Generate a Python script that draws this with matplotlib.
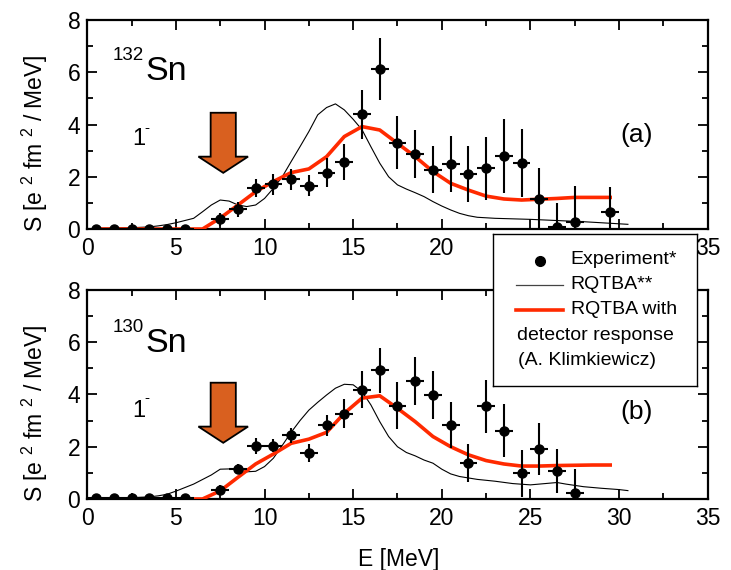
import numpy as np
import matplotlib
matplotlib.use("Agg")
import matplotlib.pyplot as plt
from matplotlib.ticker import MultipleLocator
from matplotlib.patches import FancyArrow

plt.rcParams['font.family'] = ['Liberation Sans', 'DejaVu Sans']
plt.rcParams['mathtext.fontset'] = 'custom'
plt.rcParams['mathtext.rm'] = 'Liberation Sans'
plt.rcParams['mathtext.it'] = 'Liberation Sans:italic'
plt.rcParams['mathtext.bf'] = 'Liberation Sans:bold'

# ---------------- data ----------------
# 132Sn experiment
exp132_x = [0.5, 1.5, 2.5, 3.5, 4.5, 5.5, 7.5, 8.5, 9.5, 10.5, 11.5, 12.5, 13.5, 14.5,
            15.5, 16.5, 17.5, 18.5, 19.5, 20.5, 21.5, 22.5, 23.5, 24.5, 25.5, 26.5, 27.5, 29.5]
exp132_y = [0.02, 0.02, 0.02, 0.02, 0.02, 0.02, 0.38, 0.75, 1.58, 1.71, 1.90, 1.66, 2.16, 2.57,
            4.39, 6.12, 3.31, 2.87, 2.26, 2.48, 2.11, 2.32, 2.80, 2.52, 1.15, 0.09, 0.28, 0.65]
exp132_err = [0, 0, 0, 0, 0, 0, 0.25, 0.3, 0.35, 0.4, 0.4, 0.4, 0.55, 0.7,
              0.95, 1.2, 1.0, 0.93, 0.9, 1.07, 1.08, 1.2, 1.42, 1.3, 1.2, 0.9, 1.37, 0.97]

# 130Sn experiment
exp130_x = [0.5, 1.5, 2.5, 3.5, 4.5, 5.5, 7.5, 8.5, 9.5, 10.5, 11.5, 12.5, 13.5, 14.5,
            15.5, 16.5, 17.5, 18.5, 19.5, 20.5, 21.5, 22.5, 23.5, 24.5, 25.5, 26.5, 27.5]
exp130_y = [0.02, 0.02, 0.02, 0.02, 0.02, 0.02, 0.34, 1.14, 2.04, 2.03, 2.43, 1.75, 2.82, 3.26,
            4.18, 4.92, 3.56, 4.53, 3.98, 2.82, 1.39, 3.54, 2.62, 0.98, 1.92, 1.07, 0.24]
exp130_err = [0, 0, 0, 0, 0, 0, 0.2, 0.2, 0.3, 0.25, 0.3, 0.35, 0.4, 0.55,
              0.7, 0.85, 0.9, 0.92, 0.9, 0.88, 0.73, 1.0, 1.0, 0.9, 1.0, 0.85, 0.9]

bin_halfwidth = 0.5

# RQTBA (thin black)
rq132_x = [0.5, 1.5, 2.5, 3.5, 4.0, 4.5, 5.0, 6.0, 6.5, 7.0, 7.5, 8.0, 8.5, 9.0, 9.5, 10.0, 10.5,
           11.0, 11.5, 12.0, 12.5, 13.0, 13.5, 14.0, 14.5, 15.0, 15.5, 16.0, 16.5, 17.0, 17.5,
           18.0, 18.5, 19.0, 19.5, 20.0, 20.5, 21.0, 21.5, 22.0, 23.0, 25.0, 28.0, 30.5]
rq132_y = [0.03, 0.04, 0.05, 0.08, 0.12, 0.17, 0.24, 0.41, 0.66, 0.92, 1.11, 1.07, 0.92, 0.86, 0.92,
           1.17, 1.56, 2.0, 2.58, 3.15, 3.73, 4.37, 4.65, 4.79, 4.56, 4.2, 3.8, 3.15, 2.52, 2.0, 1.69,
           1.53, 1.39, 1.24, 1.05, 0.88, 0.73, 0.6, 0.51, 0.45, 0.41, 0.37, 0.28, 0.18]

rq130_x = [0.5, 1.5, 2.5, 3.5, 4.0, 4.5, 5.0, 6.0, 7.0, 7.5, 8.0, 8.5, 9.0, 9.5, 10.0, 10.5, 11.0,
           11.5, 12.0, 12.5, 13.0, 13.5, 14.0, 14.5, 15.0, 15.5, 16.0, 16.5, 17.0, 17.5, 18.0,
           18.5, 19.0, 19.5, 20.0, 20.5, 21.0, 22.0, 23.0, 24.0, 25.0, 26.0, 26.5, 27.0, 28.0,
           29.0, 30.0, 30.5]
rq130_y = [0.03, 0.04, 0.05, 0.08, 0.12, 0.18, 0.3, 0.57, 0.92, 1.14, 1.15, 1.12, 1.04, 1.06, 1.24,
           1.56, 2.05, 2.55, 3.0, 3.4, 3.7, 3.98, 4.24, 4.39, 4.37, 4.11, 3.6, 2.96, 2.39, 2.0, 1.78,
           1.65, 1.49, 1.37, 1.14, 0.96, 0.86, 0.75, 0.68, 0.59, 0.54, 0.6, 0.63, 0.57, 0.47,
           0.41, 0.36, 0.32]

# RQTBA with detector response (thick red)
det_x = [0.5, 1.5, 2.5, 3.5, 4.5, 5.5, 6.5, 7.5, 8.5, 9.5, 10.5, 11.5, 12.5, 13.5, 14.5,
         15.5, 16.5, 17.5, 18.5, 19.5, 20.5, 21.5, 22.5, 23.5, 24.5, 25.5, 26.5, 27.5, 28.5, 29.5]
det132_y = [0, 0, 0, 0, 0, 0, 0, 0.42, 0.92, 1.43, 1.82, 2.16, 2.30, 2.77, 3.54,
            3.92, 3.79, 3.28, 2.77, 2.20, 1.75, 1.49, 1.26, 1.15, 1.11, 1.14, 1.17, 1.21, 1.21, 1.21]
det130_y = [0, 0, 0, 0, 0, 0, 0, 0.31, 0.83, 1.34, 1.72, 2.13, 2.29, 2.55, 3.28,
            3.86, 3.95, 3.47, 2.96, 2.39, 2.00, 1.69, 1.47, 1.34, 1.26, 1.26, 1.28, 1.29, 1.30, 1.30]

panel_letters = ['(a)', '(b)']
nuclei_mass = ['132', '130']
legend_labels = ['Experiment*', 'RQTBA**', 'RQTBA with']
legend_extra = ['detector response', '(A. Klimkiewicz)']
xlabel = 'E [MeV]'
ylabel = r'S [e $^{2}$ fm $^{2}$ / MeV]'

# arrow geometry (data units)
arrow_x, arrow_top, arrow_tip = 7.67, 4.45, 2.15
arrow_shaft_w, arrow_head_w, arrow_head_len = 1.42, 2.8, 0.62

RED = '#ff2a00'
ORANGE = '#d9601f'

fig = plt.figure(figsize=(7.31, 5.70), dpi=100)
ax1 = fig.add_axes([0.1194, 0.5982, 0.8487, 0.3667])
ax2 = fig.add_axes([0.1194, 0.1246, 0.8487, 0.3667])

panels = [
    (ax1, exp132_x, exp132_y, exp132_err, rq132_x, rq132_y, det132_y),
    (ax2, exp130_x, exp130_y, exp130_err, rq130_x, rq130_y, det130_y),
]

for i, (ax, ex, ey, ee, rx, ry, dy) in enumerate(panels):
    ax.plot(rx, ry, color='black', lw=0.8, zorder=3)
    ax.plot(det_x, dy, color=RED, lw=2.6, zorder=4, solid_joinstyle='round')
    ax.errorbar(ex, ey, yerr=ee, xerr=bin_halfwidth, fmt='o', color='black',
                ms=6.5, elinewidth=1.5, capsize=0, zorder=5, clip_on=True)
    arr = FancyArrow(arrow_x, arrow_top, 0, -(arrow_top - arrow_tip), width=arrow_shaft_w,
                     head_width=arrow_head_w, head_length=arrow_head_len,
                     length_includes_head=True, facecolor=ORANGE, edgecolor='black',
                     lw=1.3, zorder=6)
    ax.add_patch(arr)

    ax.set_xlim(0, 35)
    ax.set_ylim(0, 8)
    ax.xaxis.set_major_locator(MultipleLocator(5))
    ax.xaxis.set_minor_locator(MultipleLocator(2.5))
    ax.yaxis.set_major_locator(MultipleLocator(2))
    ax.yaxis.set_minor_locator(MultipleLocator(1))
    ax.tick_params(which='both', direction='in', top=True, right=True, width=1.3,
                   labelsize=16.5)
    ax.tick_params(which='major', length=7)
    ax.tick_params(which='minor', length=4.5)
    ax.tick_params(axis='x', pad=6)
    ax.tick_params(axis='y', pad=5)
    for s in ax.spines.values():
        s.set_linewidth(1.6)

    ax.set_ylabel(ylabel, fontsize=16.5)
    ax.yaxis.set_label_coords(-0.06, 0.41)

    # labels inside
    ax.text(1.45, 6.47 - 0.07 * i, nuclei_mass[i], fontsize=13.5, ha='left', va='baseline')
    ax.text(3.3, 5.71 - 0.07 * i, 'Sn', fontsize=24.5, ha='left', va='baseline')
    ax.text(2.55, 3.22 - 0.07 * i, '1', fontsize=17, ha='left', va='baseline')
    ax.text(3.22, 3.88, '-', fontsize=11, ha='left', va='center')
    ax.text(31.0, 3.6 - 0.27 * i, panel_letters[i], fontsize=19, ha='center', va='center')

ax2.set_xlabel(xlabel, fontsize=16.5)
ax2.xaxis.set_label_coords(0.502, -0.235)

# legend box (overlay)
lax = fig.add_axes([0.674, 0.3233, 0.2791, 0.2661], zorder=10)
lax.set_xlim(0, 1)
lax.set_ylim(0, 1)
lax.set_xticks([])
lax.set_yticks([])
lax.set_facecolor('white')
for s in lax.spines.values():
    s.set_linewidth(1.0)
lax.plot([0.232], [0.824], 'o', color='black', ms=7)
lax.plot([0.114, 0.343], [0.664, 0.664], color='#444444', lw=0.9)
lax.plot([0.114, 0.343], [0.496, 0.496], color=RED, lw=2.6)
lax.text(0.382, 0.83, legend_labels[0], fontsize=14, va='center', ha='left')
lax.text(0.382, 0.67, legend_labels[1], fontsize=14, va='center', ha='left')
lax.text(0.382, 0.50, legend_labels[2], fontsize=14, va='center', ha='left')
lax.text(0.118, 0.33, legend_extra[0], fontsize=14, va='center', ha='left')
lax.text(0.125, 0.165, legend_extra[1], fontsize=14, va='center', ha='left')

fig.savefig('out.png', dpi=100)
